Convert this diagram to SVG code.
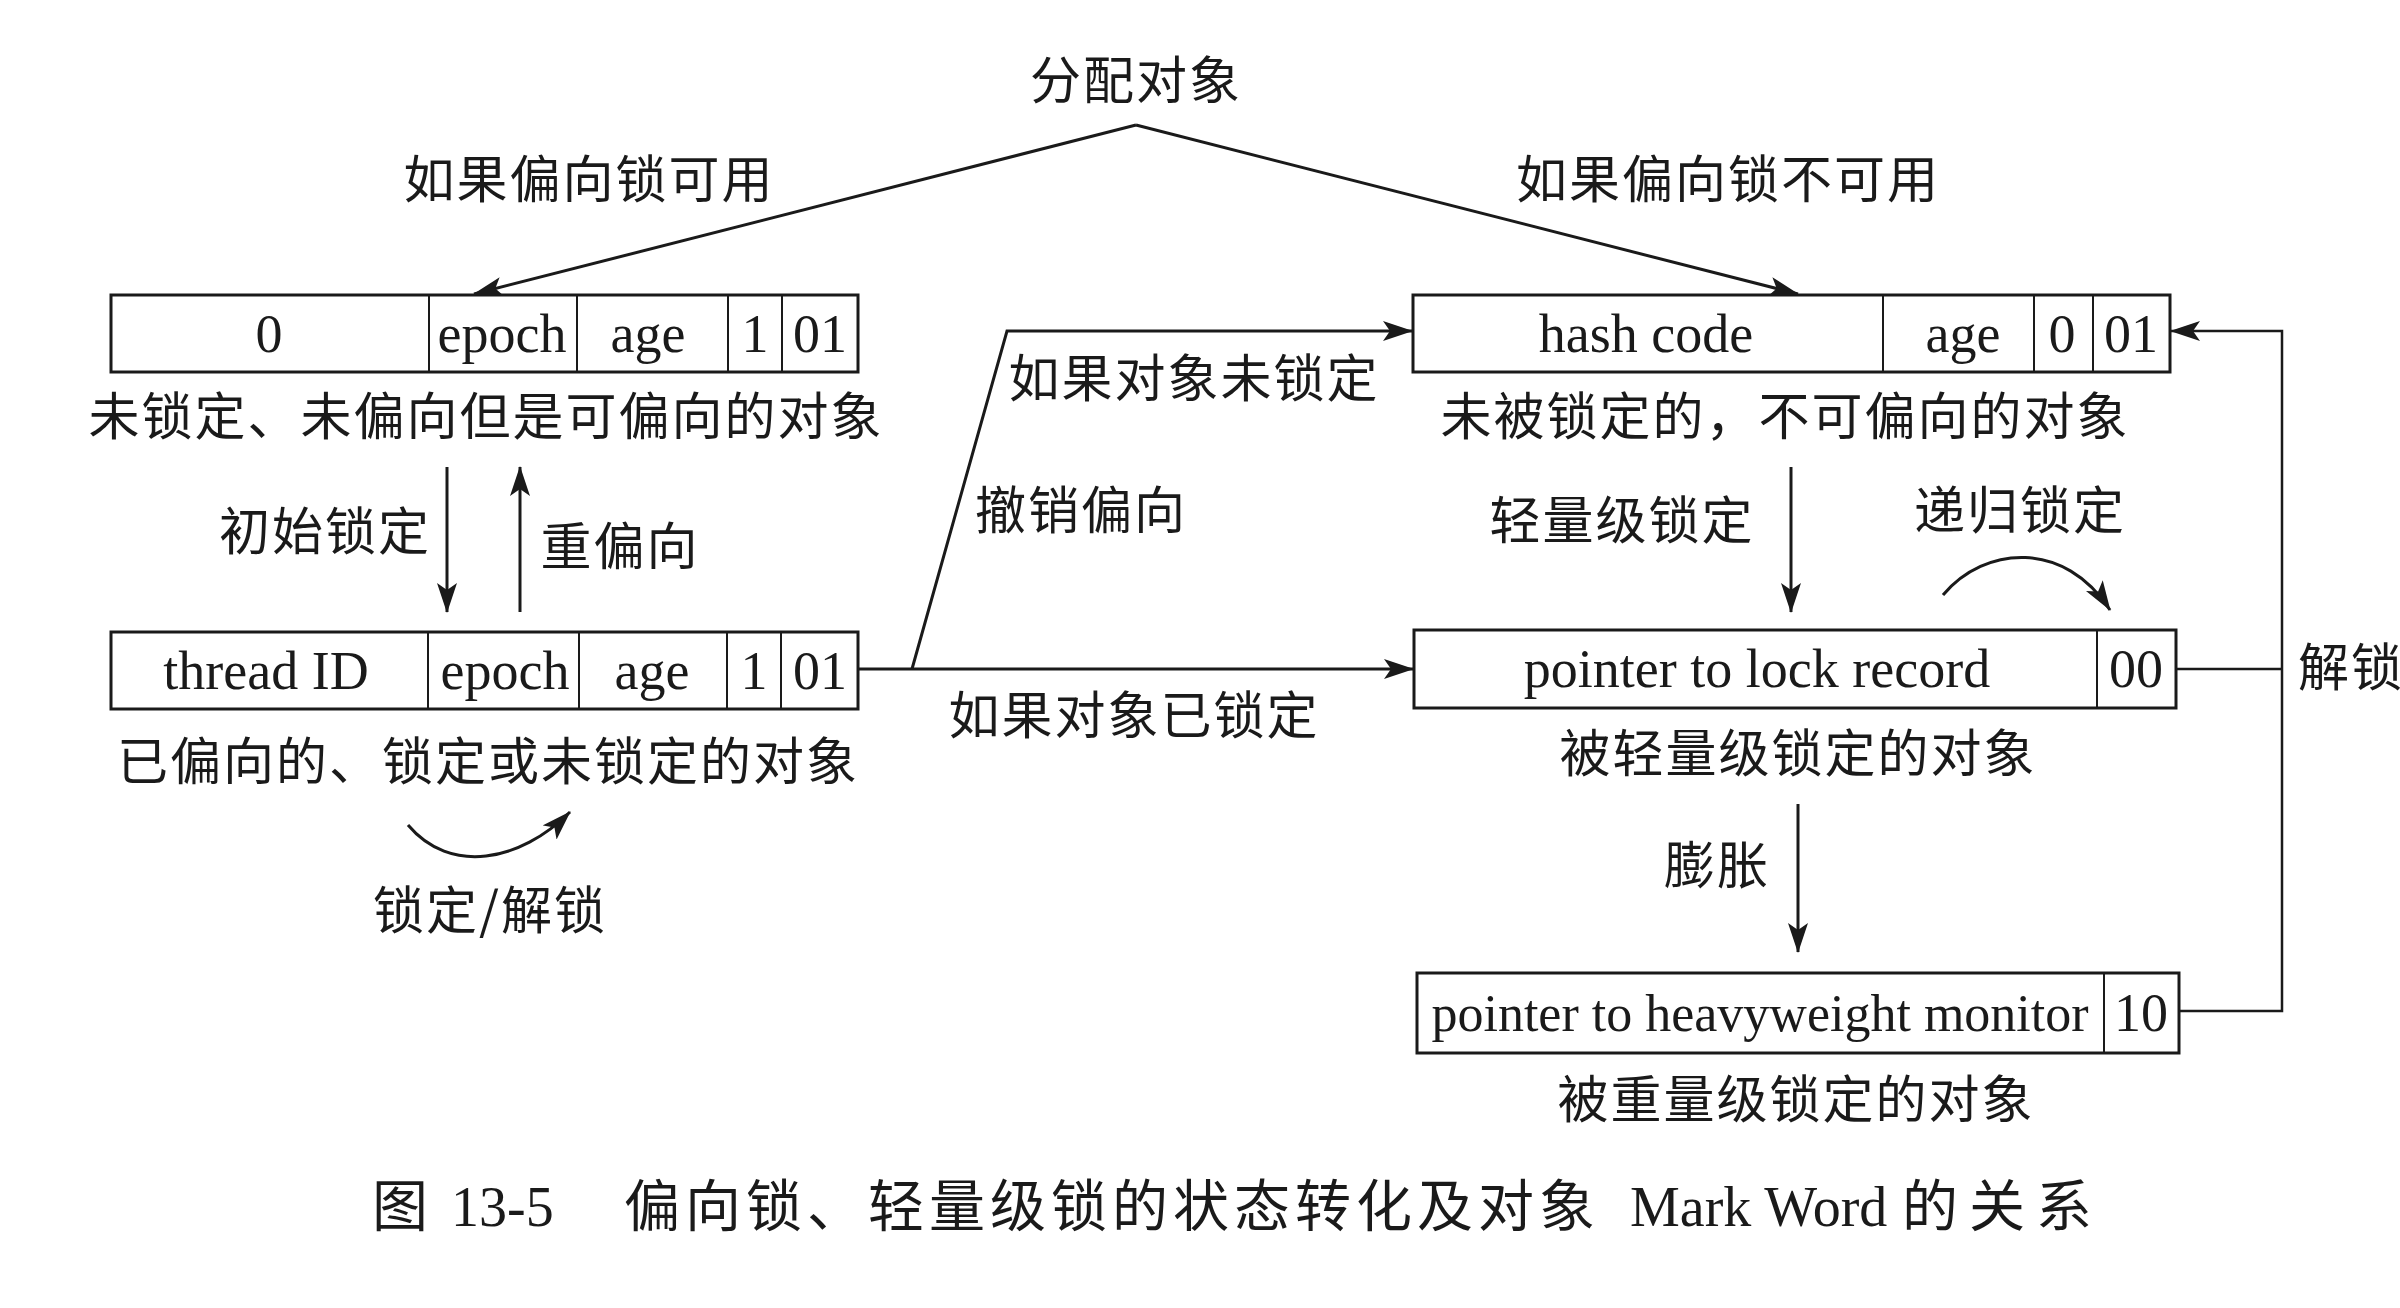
<svg xmlns="http://www.w3.org/2000/svg" width="2400" height="1308" viewBox="0 0 2400 1308">
  <style>
    .cell { fill: #ffffff; stroke: #1a1a1a; stroke-width: 3; }
    .div { stroke: #1a1a1a; stroke-width: 2; fill: none; }
    .wire { stroke: #1a1a1a; stroke-width: 3; fill: none; }
    .thin { stroke: #1a1a1a; stroke-width: 2.5; fill: none; }
    .lat { font-family: "Liberation Serif", "Times New Roman", serif; font-size: 54px; fill: #1a1a1a; text-anchor: middle; }
    .cjk { font-family: "Noto Sans CJK SC", "Noto Sans", sans-serif; font-size: 51px; letter-spacing: 2px; fill: #1a1a1a; text-anchor: middle; }
    .cap { font-family: "Noto Sans CJK SC", "Noto Sans", sans-serif; font-size: 56px; letter-spacing: 5px; fill: #1a1a1a; }
    .capl { font-family: "Liberation Serif", "Times New Roman", serif; font-size: 56px; fill: #1a1a1a; }
  </style>
  <defs>
    <marker id="arr" viewBox="0 0 30 20" refX="29" refY="10" markerWidth="30" markerHeight="20" markerUnits="userSpaceOnUse" orient="auto">
      <path d="M0,0 L30,10 L0,20 L7,10 z" fill="#1a1a1a"/>
    </marker>
  </defs>
  <rect width="2400" height="1308" fill="#ffffff"/>

  <!-- connectors -->
  <g id="connectors">
    <path class="wire" d="M1136,125 L474,294" marker-end="url(#arr)"/>
    <path class="wire" d="M1136,125 L1798,294" marker-end="url(#arr)"/>
    <path class="wire" d="M447,467 L447,612" marker-end="url(#arr)"/>
    <path class="wire" d="M520,612 L520,467" marker-end="url(#arr)"/>
    <path class="wire" d="M408,825 C450,875 520,862 570,812" marker-end="url(#arr)"/>
    <path class="wire" d="M858,669 L1413,669" marker-end="url(#arr)"/>
    <path class="wire" d="M912,669 L1007,331 L1412,331" marker-end="url(#arr)"/>
    <path class="wire" d="M1791,467 L1791,612" marker-end="url(#arr)"/>
    <path class="wire" d="M1943,595 C1985,545 2065,540 2110,610" marker-end="url(#arr)"/>
    <path class="wire" d="M1798,804 L1798,952" marker-end="url(#arr)"/>
    <path class="thin" d="M2176,669 L2282,669"/>
    <path class="thin" d="M2179,1011 L2282,1011 L2282,331 L2171,331" marker-end="url(#arr)"/>
  </g>

  <!-- biasable, unlocked -->
  <g id="node-biasable">
    <rect class="cell" x="111" y="295" width="747" height="77"/>
    <path class="div" d="M429,295 V372 M577,295 V372 M728,295 V372 M782,295 V372"/>
    <text class="lat" x="269" y="352">0</text>
    <text class="lat" x="502" y="352">epoch</text>
    <text class="lat" x="648" y="352">age</text>
    <text class="lat" x="755" y="352">1</text>
    <text class="lat" x="820" y="352">01</text>
    <text class="cjk" x="486" y="435">未锁定、未偏向但是可偏向的对象</text>
  </g>

  <!-- biased -->
  <g id="node-biased">
    <rect class="cell" x="111" y="632" width="747" height="77"/>
    <path class="div" d="M428,632 V709 M579,632 V709 M727,632 V709 M781,632 V709"/>
    <text class="lat" x="266" y="689">thread ID</text>
    <text class="lat" x="505" y="689">epoch</text>
    <text class="lat" x="652" y="689">age</text>
    <text class="lat" x="754" y="689">1</text>
    <text class="lat" x="820" y="689">01</text>
    <text class="cjk" x="488" y="780">已偏向的、锁定或未锁定的对象</text>
  </g>

  <!-- unlocked, not biasable -->
  <g id="node-hash">
    <rect class="cell" x="1413" y="295" width="757" height="77"/>
    <path class="div" d="M1883,295 V372 M2034,295 V372 M2093,295 V372"/>
    <text class="lat" x="1646" y="352">hash code</text>
    <text class="lat" x="1963" y="352">age</text>
    <text class="lat" x="2062" y="352">0</text>
    <text class="lat" x="2131" y="352">01</text>
    <text class="cjk" x="1785" y="435">未被锁定的，不可偏向的对象</text>
  </g>

  <!-- lightweight locked -->
  <g id="node-light">
    <rect class="cell" x="1414" y="630" width="762" height="78"/>
    <path class="div" d="M2097,630 V708"/>
    <text class="lat" x="1757" y="687">pointer to lock record</text>
    <text class="lat" x="2136" y="687">00</text>
    <text class="cjk" x="1798" y="772">被轻量级锁定的对象</text>
  </g>

  <!-- heavyweight locked -->
  <g id="node-heavy">
    <rect class="cell" x="1417" y="973" width="762" height="80"/>
    <path class="div" d="M2104,973 V1053"/>
    <text class="lat" x="1760" y="1031" style="font-size:52px">pointer to heavyweight monitor</text>
    <text class="lat" x="2141" y="1031">10</text>
    <text class="cjk" x="1796" y="1118">被重量级锁定的对象</text>
  </g>

  <!-- start and edge labels -->
  <g id="labels">
    <text class="cjk" x="1136" y="99">分配对象</text>
    <text class="cjk" x="589" y="198">如果偏向锁可用</text>
    <text class="cjk" x="1728" y="198">如果偏向锁不可用</text>
    <text class="cjk" x="325" y="550">初始锁定</text>
    <text class="cjk" x="620" y="565">重偏向</text>
    <text class="cjk" x="490" y="929">锁定/解锁</text>
    <text class="cjk" x="1194" y="397">如果对象未锁定</text>
    <text class="cjk" x="1081" y="529">撤销偏向</text>
    <text class="cjk" x="1134" y="734">如果对象已锁定</text>
    <text class="cjk" x="1622" y="539">轻量级锁定</text>
    <text class="cjk" x="2020" y="529">递归锁定</text>
    <text class="cjk" x="1717" y="884">膨胀</text>
    <text class="cjk" x="2298" y="686" style="text-anchor:start">解锁</text>
  </g>

  <!-- figure caption -->
  <g id="caption">
    <text class="cap" x="372" y="1226">图</text>
    <text class="capl" x="451" y="1226">13-5</text>
    <text class="cap" x="624" y="1226">偏向锁、轻量级锁的状态转化及对象</text>
    <text class="capl" x="1630" y="1226">Mark Word</text>
    <text class="cap" x="1902" y="1226" style="letter-spacing:11px">的关系</text>
  </g>
</svg>
